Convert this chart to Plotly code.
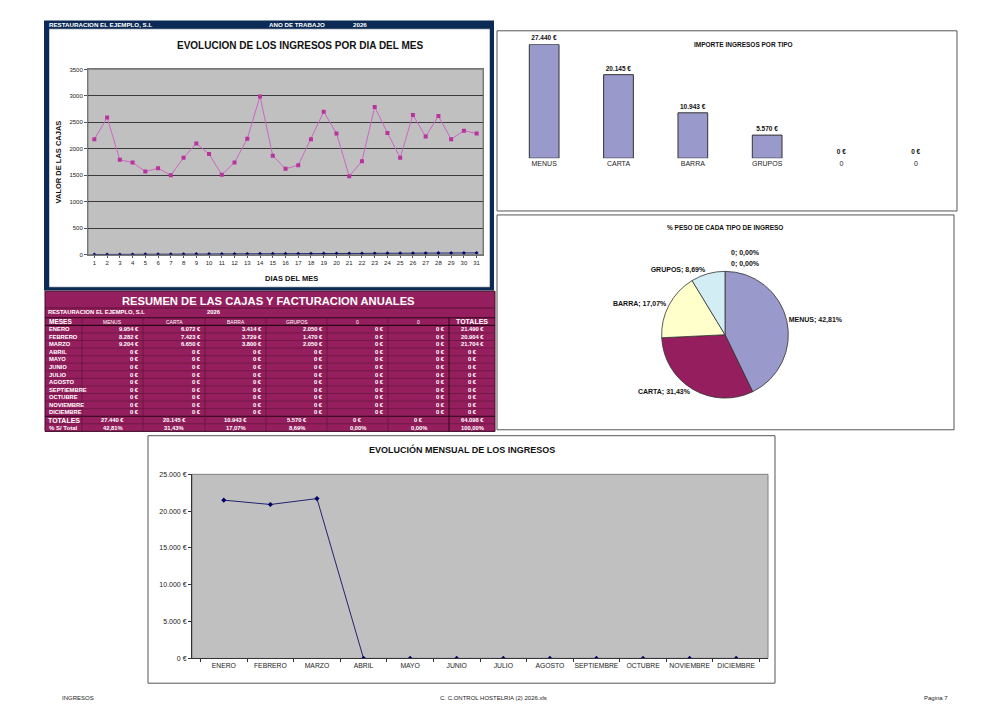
import plotly.graph_objects as go

# ---- datos ----
dias = list(range(1, 32))
ingresos_dia = [2180, 2590, 1790, 1740, 1570, 1630, 1500, 1830, 2100, 1900,
                1510, 1740, 2190, 2990, 1870, 1620, 1690, 2180, 2700, 2290,
                1480, 1765, 2790, 2300, 1830, 2640, 2230, 2620, 2180, 2340, 2290]
serie_b = [1, 2, 3, 4, 5, 6, 7, 8, 9, 10, 11, 12, 13, 14, 15, 16,
           17, 18, 19, 20, 21, 22, 23, 24, 25, 26, 27, 28, 29, 30, 31]

meses = ["ENERO", "FEBRERO", "MARZO", "ABRIL", "MAYO", "JUNIO", "JULIO",
         "AGOSTO", "SEPTIEMBRE", "OCTUBRE", "NOVIEMBRE", "DICIEMBRE"]
tipos = ["MENUS", "CARTA", "BARRA", "GRUPOS", "0", "0"]
menus = [9954, 8282, 9204, 0, 0, 0, 0, 0, 0, 0, 0, 0]
carta = [6072, 7423, 6650, 0, 0, 0, 0, 0, 0, 0, 0, 0]
barra = [3414, 3729, 3800, 0, 0, 0, 0, 0, 0, 0, 0, 0]
grupos = [2050, 1470, 2050, 0, 0, 0, 0, 0, 0, 0, 0, 0]
tipo5 = [0] * 12
tipo6 = [0] * 12

columnas = [menus, carta, barra, grupos, tipo5, tipo6]
totales_tipo = [sum(c) for c in columnas]
totales_mes = [sum(v) for v in zip(*columnas)]
total = sum(totales_tipo)
pcts = [t / total * 100 for t in totales_tipo]

FONT = "Liberation Sans, Arial, sans-serif"
PLUM = "#951F5E"
NAVY = "#0B2A55"
# the page body has an 8px margin, so the figure is drawn 8px in
OFF = 8
W, H = 984, 698


def px(x):
    return (x - OFF) / W


def py(y):
    return 1 - (y - OFF) / H


def eur(v):
    return f"{v:,.0f}".replace(",", ".") + " €"


def pct(p):
    return f"{p:.2f}".replace(".", ",") + "%"


fig = go.Figure()

# evolucion diaria
fig.add_trace(go.Scatter(x=dias, y=ingresos_dia, mode="lines+markers",
                         line=dict(color="#CC66C4", width=1),
                         marker=dict(symbol="square", size=4, color="#B8339E"),
                         xaxis="x", yaxis="y", showlegend=False))
fig.add_trace(go.Scatter(x=dias, y=serie_b, mode="lines+markers",
                         line=dict(color="#1F2A70", width=1),
                         marker=dict(symbol="diamond", size=3, color="#000066"),
                         xaxis="x", yaxis="y", showlegend=False))

# importe por tipo
pos = list(range(len(tipos)))
fig.add_trace(go.Bar(x=pos, y=totales_tipo, width=0.4,
                     marker=dict(color="#9999CC",
                                 line=dict(color="#333333",
                                           width=[1 if v > 0 else 0 for v in totales_tipo])),
                     texttemplate="<b>%{y:,.0f} €</b>", textposition="outside",
                     textfont=dict(size=6.5, color="#111111"), cliponaxis=False,
                     xaxis="x2", yaxis="y2", showlegend=False))

# peso por tipo
pie_lab = [t for t, v in zip(tipos, totales_tipo) if v > 0]
pie_val = [v for v in totales_tipo if v > 0]
fig.add_trace(go.Pie(labels=pie_lab, values=pie_val, sort=False,
                     direction="clockwise", rotation=0,
                     marker=dict(colors=["#9999CC", PLUM, "#FFFFCC", "#D2EEF4"],
                                 line=dict(color="#333333", width=0.8)),
                     textposition="outside",
                     texttemplate="<b>%{label}; %{percent:.2%}</b>",
                     textfont=dict(size=7, color="#111111"),
                     domain=dict(x=[px(661), px(789)], y=[py(398), py(270)]),
                     showlegend=False))

# evolucion mensual
fig.add_trace(go.Scatter(x=meses, y=totales_mes, mode="lines+markers",
                         line=dict(color="#22226E", width=1),
                         marker=dict(symbol="diamond", size=4, color="#000066"),
                         xaxis="x3", yaxis="y3", showlegend=False))

tick_font = dict(size=6, color="#222222", family=FONT)
fig.update_layout(
    width=W, height=H, margin=dict(l=0, r=0, t=0, b=0),
    paper_bgcolor="white", plot_bgcolor="rgba(0,0,0,0)",
    separators=",.", font=dict(family=FONT, color="#111111"),
    xaxis=dict(domain=[px(88), px(483)], anchor="y", range=[0.5, 31.5],
               tickvals=dias, tickfont=tick_font, ticks="outside", ticklen=2,
               tickcolor="#555555", showline=True, linecolor="#777777",
               mirror=True, showgrid=False, zeroline=False, tickangle=0),
    yaxis=dict(domain=[py(253), py(66)], anchor="x", range=[0, 3500], dtick=500,
               tickformat="d", tickfont=tick_font, ticks="outside", ticklen=3,
               tickcolor="#555555", showline=True, linecolor="#777777",
               mirror=True, gridcolor="#3A3A3A", gridwidth=1, zeroline=False),
    xaxis2=dict(domain=[px(507), px(953)], anchor="y2", range=[-0.5, 5.5],
                tickvals=pos, ticktext=tipos, tickfont=dict(size=7, color="#222222"),
                showline=False, showgrid=False, zeroline=False, ticks="", tickangle=0),
    yaxis2=dict(domain=[py(155.7), py(40.7)], anchor="x2", range=[0, max(totales_tipo)],
                showticklabels=False, showgrid=False, zeroline=False, showline=False),
    xaxis3=dict(domain=[px(192), px(768)], anchor="y3", tickson="boundaries",
                tickfont=dict(size=6.8, color="#222222"), ticks="outside", ticklen=3,
                tickcolor="#333333", showline=True, linecolor="#333333",
                showgrid=False, zeroline=False, tickangle=0),
    yaxis3=dict(domain=[py(661), py(475)], anchor="x3", range=[0, 25000], dtick=5000,
                tickformat=",.0f", ticksuffix=" €", tickfont=dict(size=7, color="#222222"),
                ticks="outside", ticklen=3, tickcolor="#333333", showline=True,
                linecolor="#333333", showgrid=False, zeroline=False),
)

shapes = []


def rect(x0, y0, x1, y1, fill=None, line="#555555", lw=1, layer="below"):
    shapes.append(dict(type="rect", xref="paper", yref="paper",
                       x0=px(x0), x1=px(x1), y0=py(y0), y1=py(y1),
                       fillcolor=fill or "rgba(0,0,0,0)",
                       line=dict(color=line, width=lw), layer=layer))


def hline(x0, x1, y, color, lw):
    shapes.append(dict(type="line", xref="paper", yref="paper", x0=px(x0), x1=px(x1),
                       y0=py(y), y1=py(y), line=dict(color=color, width=lw)))


def vline(x, y0, y1, color, lw):
    shapes.append(dict(type="line", xref="paper", yref="paper", x0=px(x), x1=px(x),
                       y0=py(y0), y1=py(y1), line=dict(color=color, width=lw)))


# marco navy del grafico diario
rect(44, 16.7, 494, 289.3, fill=NAVY, line=NAVY, lw=0)
rect(49, 25, 490, 286, fill="white", line="#1A2A44", lw=0.5)
# fondos grises de las areas de trazado
for xa, ya in [("x", "y"), ("x3", "y3")]:
    shapes.append(dict(type="rect", xref=xa + " domain", yref=ya + " domain",
                       x0=0, x1=1, y0=0, y1=1, fillcolor="#C0C0C0",
                       line=dict(color="#808080", width=1), layer="below"))
# marcos de los demas graficos
rect(497, 27, 957, 209, line="#555555", lw=1)
rect(497, 213, 954, 430, line="#555555", lw=1)
rect(148, 436, 775, 686, line="#555555", lw=1)

# tabla resumen
cols = [45, 82, 143, 205, 266, 327, 388, 449, 495]
row_h = 7.65
head_y = 320.7
n_rows = 14
top = head_y - row_h / 2
bottom = head_y + n_rows * row_h + row_h / 2
rect(45, 290, 495, bottom, fill=PLUM, line="#3A0A22", lw=1)
hline(45, 495, 307, "#4A0F2E", 0.8)
hline(45, 495, top, "#2A0616", 1)
for i in range(1, n_rows + 1):
    yb = head_y + i * row_h - row_h / 2
    if i in (1, 13):
        hline(45, 495, yb, "#2A0616", 1.2)
    else:
        hline(45, 495, yb, "#5A1438", 0.6)
for x in cols[1:-1]:
    vline(x, top, bottom, "#2A0616" if x == 449 else "#5A1438", 1 if x == 449 else 0.7)

annotations = []


def txt(x, y, s, size=6, bold=True, anchor="center", color="white"):
    annotations.append(dict(x=px(x), y=py(y), xref="paper", yref="paper",
                            text=f"<b>{s}</b>" if bold else s, showarrow=False,
                            xanchor=anchor, yanchor="middle",
                            font=dict(size=size, color=color, family=FONT)))


txt(268, 299.5, "RESUMEN DE LAS CAJAS Y FACTURACION ANUALES", size=11.2)
txt(46, 311, "RESTAURACION EL EJEMPLO, S.L", size=5.8, anchor="left")
txt(205, 311, "2026", size=5.8, anchor="left")

txt(46.5, head_y, "MESES", size=6.5, anchor="left")
for j, t in enumerate(tipos):
    txt((cols[j + 1] + cols[j + 2]) / 2, head_y, t, size=5, bold=False)
txt((cols[7] + cols[8]) / 2, head_y, "TOTALES", size=7)

for i, m in enumerate(meses):
    yc = head_y + (i + 1) * row_h
    txt(46.5, yc, m, size=5.8, anchor="left")
    for j, c in enumerate(columnas):
        txt(cols[j + 2] - 2, yc, eur(c[i]), size=5.8, anchor="right")
    txt((cols[7] + cols[8]) / 2, yc, eur(totales_mes[i]), size=5.8)

y_tot = head_y + 13 * row_h
y_pct = head_y + 14 * row_h
txt((cols[0] + cols[1]) / 2, y_tot, "TOTALES", size=7)
txt(46.5, y_pct, "% S/ Total", size=6, anchor="left")
for j in range(len(tipos)):
    xc = (cols[j + 1] + cols[j + 2]) / 2
    txt(xc, y_tot, eur(totales_tipo[j]), size=5.8)
    txt(xc, y_pct, pct(pcts[j]), size=5.8)
txt((cols[7] + cols[8]) / 2, y_tot, eur(total), size=5.8)
txt((cols[7] + cols[8]) / 2, y_pct, pct(100), size=5.8)

# cabecera
txt(47, 20.8, "RESTAURACION EL EJEMPLO, S.L", size=6.2, anchor="left")
txt(267, 20.8, "ANO DE TRABAJO", size=6.2, anchor="left")
txt(351, 20.8, "2026", size=6.2, anchor="left")

# titulos
txt(300, 42.3, "EVOLUCION DE LOS INGRESOS POR DIA DEL MES", size=10, color="#111111")
txt(291, 277.7, "DIAS DEL MES", size=7.5, color="#111111")
annotations.append(dict(x=px(58), y=py(160), xref="paper", yref="paper",
                        text="<b>VALOR DE LAS CAJAS</b>", showarrow=False, textangle=-90,
                        xanchor="center", yanchor="middle",
                        font=dict(size=7.5, color="#111111", family=FONT)))
txt(743, 40.7, "IMPORTE INGRESOS POR TIPO", size=6.5, color="#111111")
txt(725, 225.7, "% PESO DE CADA TIPO DE INGRESO", size=6.5, color="#111111")
txt(462, 450, "EVOLUCIÓN MENSUAL DE LOS INGRESOS", size=9, color="#111111")

# etiquetas de los tipos sin importe
k = 0
for t, v, p in zip(tipos, totales_tipo, pcts):
    if v == 0:
        txt(729, 251 + k * 12, f"{t}; {pct(p)}", size=7, anchor="left", color="#111111")
        k += 1

# pie de pagina
txt(60, 701, "INGRESOS", size=6, bold=False, anchor="left", color="#222222")
txt(493, 701, "C. C.ONTROL HOSTELRIA (2) 2026.xls", size=6, bold=False, color="#222222")
txt(950, 701, "Pagina 7", size=6, bold=False, anchor="right", color="#222222")

fig.update_layout(shapes=shapes, annotations=annotations)
fig.write_html("out.html")
